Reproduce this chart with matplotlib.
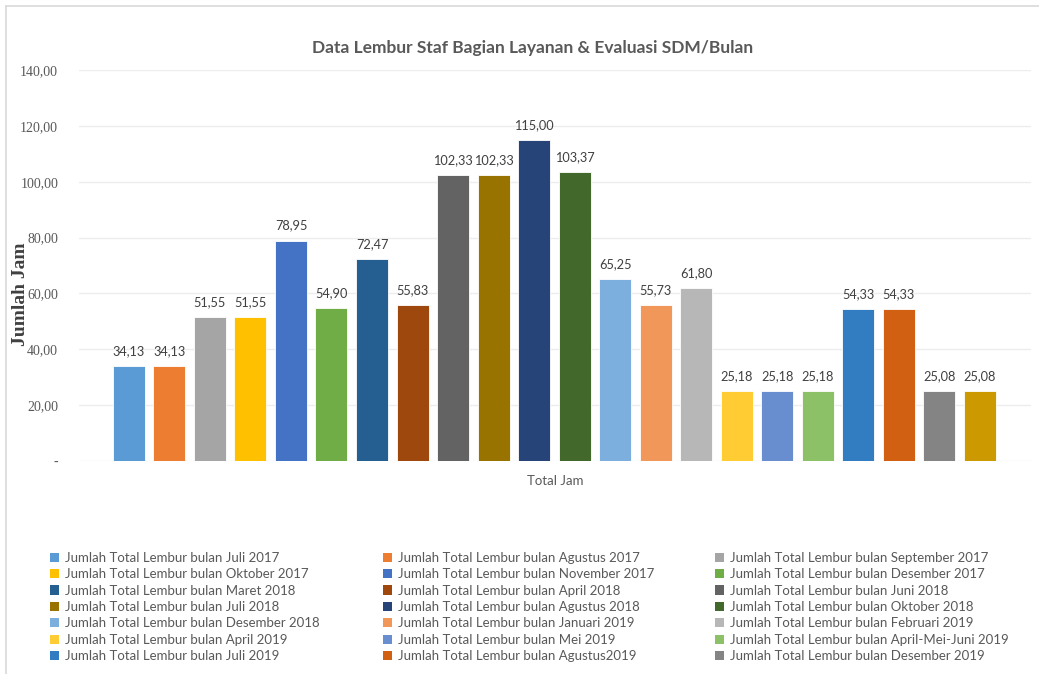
import matplotlib.pyplot as plt
from matplotlib.patches import Patch
from matplotlib.lines import Line2D

months = ["Juli 2017", "Agustus 2017", "September 2017", "Oktober 2017",
          "November 2017", "Desember 2017", "Maret 2018", "April 2018",
          "Juni 2018", "Juli 2018", "Agustus 2018", "Oktober 2018",
          "Desember 2018", "Januari 2019", "Februari 2019", "April 2019",
          "Mei 2019", "April-Mei-Juni 2019", "Juli 2019", "Agustus2019",
          "Desember 2019", ""]
values = [34.13, 34.13, 51.55, 51.55, 78.95, 54.90, 72.47, 55.83,
          102.33, 102.33, 115.00, 103.37, 65.25, 55.73, 61.80, 25.18,
          25.18, 25.18, 54.33, 54.33, 25.08, 25.08]
colors = ["#5B9BD5", "#ED7D31", "#A5A5A5", "#FFC000", "#4472C4", "#70AD47",
          "#255E91", "#9E480E", "#636363", "#997300", "#264478", "#43682B",
          "#7CAFDD", "#F1975A", "#B7B7B7", "#FFCD33", "#698ED0", "#8CC168",
          "#327DC2", "#D26012", "#848484", "#CC9A00"]
yticks = [0, 20, 40, 60, 80, 100, 120, 140]

sans = ["Lato", "DejaVu Sans"]
serif = ["Liberation Serif", "DejaVu Serif"]

fig = plt.figure(figsize=(10.39, 6.74), dpi=100)
ax = fig.add_axes([79/1039, 1-461/674, (1031-79)/1039, (461-70)/674])

x = list(range(len(values)))
bars = ax.bar(x, values, width=0.79, color=colors, edgecolor="white", linewidth=0.6, zorder=3)
for xi, v in zip(x, values):
    ax.text(xi, v + 3.2, f"{v:.2f}".replace(".", ","), ha="center", va="bottom",
            fontsize=9.2, color="#404040", family=sans)

ax.set_ylim(0, 140)
ax.set_xlim(-1.23, 22.26)
ax.set_yticks(yticks)
ax.set_yticklabels(["-" if t == 0 else f"{t:.2f}".replace(".", ",") for t in yticks],
                   family=serif, fontsize=10, color="#595959")
ax.set_xticks([(-1.23 + 22.26) / 2])
ax.set_xticklabels(["Total Jam"], family=sans, fontsize=9.5, color="#595959")
ax.tick_params(length=0)
ax.tick_params(axis="y", pad=15)
ax.tick_params(axis="x", pad=10)
ax.grid(axis="y", color="#EDEDED", linewidth=1, zorder=0)
for s in ax.spines.values():
    s.set_visible(False)

ax.set_ylabel("Jumlah Jam", family=serif, fontsize=14, fontweight="bold", color="#404040")
ax.yaxis.set_label_coords(-0.053, 0.427)

fig.text(533/1039, 1-48/674, "Data Lembur Staf Bagian Layanan & Evaluasi SDM/Bulan",
         ha="center", va="center", fontsize=12.5, fontweight="bold", color="#595959", family=sans)

# frame lines (top and left)
fig.add_artist(Line2D([6/1039, 1], [1-6/674, 1-6/674], color="#D9D9D9", lw=1.2))
fig.add_artist(Line2D([6/1039, 6/1039], [0, 1-6/674], color="#D9D9D9", lw=1.2))

# legend: three columns, row-wise order (last bar not listed)
col_x = [50/1039, 383/1039, 715/1039]
for c in range(3):
    handles = []
    for r in range(7):
        i = r * 3 + c
        handles.append(Patch(facecolor=colors[i], label="Jumlah Total Lembur bulan " + months[i]))
    fig.legend(handles=handles, loc="upper left", bbox_to_anchor=(col_x[c], 1-552/674),
               frameon=False, prop={"family": sans, "size": 9.5}, labelcolor="#595959",
               handlelength=0.7, handleheight=0.7, handletextpad=0.4, labelspacing=0.33,
               borderpad=0, borderaxespad=0)

fig.savefig("out.png", dpi=100)
